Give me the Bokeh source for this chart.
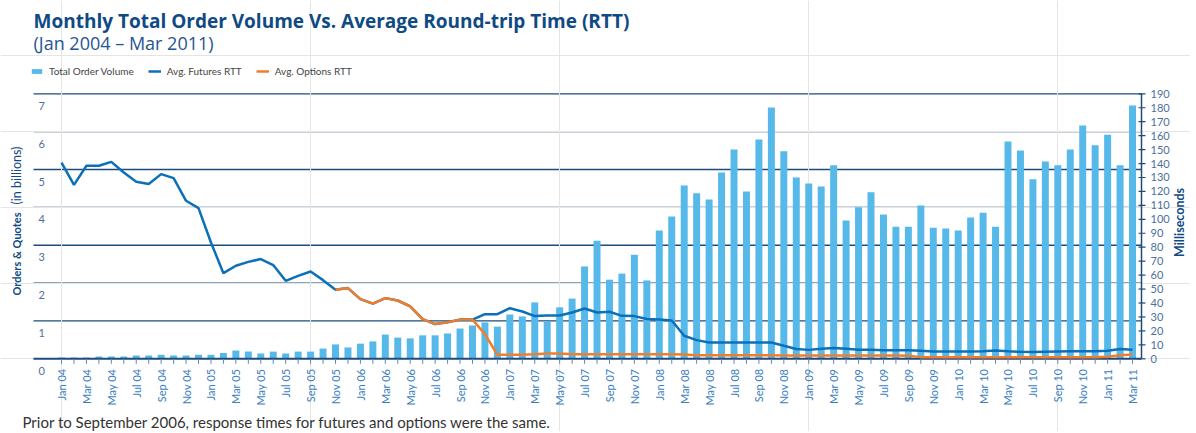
import math
from bokeh.plotting import figure
from bokeh.models import (Range1d, Label, Legend, LegendItem, ColumnDataSource)
from bokeh.core.properties import value
from bokeh.embed import file_html
from bokeh.resources import INLINE

# ---------------- data ----------------
month_names = ["Jan", "Feb", "Mar", "Apr", "May", "Jun",
               "Jul", "Aug", "Sep", "Oct", "Nov", "Dec"]
years = ["04", "05", "06", "07", "08", "09", "10", "11"]
months = [f"{m} {y}" for y in years for m in month_names][:87]   # Jan 04 .. Mar 11

# Total order volume (billions)
volume = [
    0.035, 0.035, 0.035, 0.06, 0.06, 0.06, 0.09, 0.09, 0.11, 0.09, 0.09, 0.11,   # 2004
    0.11, 0.15, 0.22, 0.19, 0.14, 0.19, 0.14, 0.19, 0.19, 0.27, 0.38, 0.30,      # 2005
    0.40, 0.46, 0.64, 0.56, 0.54, 0.62, 0.62, 0.67, 0.80, 0.88, 0.96, 0.85,      # 2006
    1.17, 1.12, 1.49, 0.99, 1.36, 1.59, 2.44, 3.12, 2.09, 2.25, 2.75, 2.07,      # 2007
    3.39, 3.76, 4.58, 4.37, 4.21, 4.92, 5.53, 4.42, 5.79, 6.64, 5.48, 4.79,      # 2008
    4.63, 4.55, 5.11, 3.65, 4.00, 4.40, 3.81, 3.49, 3.49, 4.05, 3.46, 3.44,      # 2009
    3.39, 3.73, 3.86, 3.49, 5.74, 5.50, 4.74, 5.21, 5.11, 5.53, 6.16, 5.64,      # 2010
    5.92, 5.11, 6.69,                                                             # 2011
]

# Avg. futures RTT (ms)
futures_rtt = [
    140.7, 124.7, 138.4, 138.4, 141.2, 133.6, 127.0, 125.4, 132.4, 129.5, 113.3, 108.0,
    83.4, 61.4, 66.7, 69.5, 71.5, 67.2, 55.9, 59.5, 62.6, 56.4, 49.5, 50.7,
    42.8, 39.6, 43.5, 41.8, 37.5, 28.4, 24.9, 26.2, 28.1, 28.1, 32.0, 32.0,
    36.3, 33.9, 30.6, 31.0, 31.0, 33.2, 36.1, 33.2, 33.7, 30.8, 30.6, 28.5,
    28.1, 27.5, 16.5, 13.4, 11.7, 11.7, 11.7, 11.7, 11.7, 11.7, 9.3, 7.0,
    6.4, 7.2, 7.7, 7.2, 6.5, 6.5, 6.2, 6.2, 6.2, 5.7, 5.2, 5.2,
    5.2, 5.2, 5.4, 5.9, 5.4, 5.0, 4.8, 5.0, 5.2, 5.4, 5.4, 5.4,
    5.7, 7.0, 6.5,
]

# Avg. options RTT (ms), reported from Nov 05
options_start = "Nov 05"
options_rtt = [
    49.5, 50.7,
    42.8, 39.6, 43.5, 41.8, 37.5, 28.4, 24.9, 26.2, 28.1, 28.1, 17.7, 2.9,
    2.9, 2.9, 3.3, 3.8, 3.8, 3.3, 3.3, 3.3, 3.3, 3.3, 3.3, 3.3,
    3.3, 3.3, 3.0, 2.6, 2.6, 2.6, 2.6, 2.6, 2.6, 2.6, 2.4, 2.4,
    2.4, 2.4, 2.4, 2.4, 2.4, 2.4, 2.4, 2.4, 2.2, 1.2, 1.2, 1.2,
    1.2, 1.2, 1.2, 1.2, 1.2, 1.2, 1.2, 1.2, 1.2, 1.2, 1.2, 1.2,
    1.4, 2.6, 3.1,
]

left_ticks = [0, 1, 2, 3, 4, 5, 6, 7]          # billions
right_ticks = list(range(0, 200, 10))          # milliseconds
LEFT_MAX, RIGHT_MAX = 7, 190

# ---------------- layout (canvas pixels) ----------------
W, H = 1190, 431
PL, PR, PT, PB = 33, 1141, 93.3, 358.3        # plot area inside the canvas
X0, X1 = -2.25, 86.72                         # month-index span of plot area
XS = (PR - PL) / (X1 - X0)                    # px per month
YS = (PB - PT) / LEFT_MAX                     # px per billion
MS = RIGHT_MAX / LEFT_MAX                     # ms per billion

NAVY = "#1d4b7c"
TITLE_BLUE = "#0f4a84"
TICK_BLUE = "#4d6f9c"
XLAB_BLUE = "#3a80c2"
BAR = "#56b9e9"
FUT = "#0b70b8"
OPT = "#f07d2c"
FONT = "Lato"
TFONT = "Open Sans"

idx = list(range(len(months)))
opt_i0 = months.index(options_start)
opt_x = idx[opt_i0:opt_i0 + len(options_rtt)]

src = ColumnDataSource(dict(x=idx, vol=volume, fut=futures_rtt, month=months))
opt_src = ColumnDataSource(dict(x=opt_x, opt=options_rtt))

y_start = -(H - PB) / YS
y_end = LEFT_MAX + PT / YS
p = figure(width=W, height=H, tools="",
           x_range=Range1d(X0 - PL / XS, X1 + (W - PR) / XS),
           y_range=Range1d(y_start, y_end),
           output_backend="svg", toolbar_location=None,
           x_axis_location=None, y_axis_location=None,
           min_border=0, min_border_left=0, min_border_right=0,
           min_border_top=0, min_border_bottom=0)
p.extra_y_ranges = {"ms": Range1d(y_start * MS, y_end * MS)}
p.outline_line_color = None
p.background_fill_color = "white"
p.border_fill_color = "white"

# horizontal gridlines (left scale)
gl = left_ticks[1:]
p.segment(x0=[X0] * len(gl), x1=[X1] * len(gl), y0=gl, y1=gl,
          line_color=NAVY, line_width=1.3, level="underlay")

# bars
bars = p.vbar(x="x", top="vol", width=0.56, source=src, fill_color=BAR,
              line_color=None)

# x axis: baseline, monthly ticks, labels every other month
p.segment(x0=[X0], x1=[X1], y0=[0], y1=[0], line_color=NAVY, line_width=2)
p.segment(x0=idx, x1=idx, y0=[0] * len(idx), y1=[-5 / YS] * len(idx),
          line_color="#6585ad", line_width=1)
xlab = [months[i] if i % 2 == 0 else "" for i in idx]
p.text(x=idx, y=[0] * len(idx), text=xlab, angle=math.pi / 2,
       text_align="right", text_baseline="middle", y_offset=10,
       text_font=value(FONT), text_font_size="11px", text_color=XLAB_BLUE)

# left tick labels (just below each gridline, inside the plot)
p.text(x=[X0] * len(left_ticks), y=left_ticks, text=[str(v) for v in left_ticks],
       x_offset=5, y_offset=12, text_align="left", text_baseline="middle",
       text_font=value(FONT), text_font_size="11px", text_color=TICK_BLUE)

# right axis (ms)
p.segment(x0=[X1], x1=[X1], y0=[0], y1=[RIGHT_MAX], y_range_name="ms",
          line_color=NAVY, line_width=1.5)
p.segment(x0=[X1 - 3 / XS] * len(right_ticks), x1=[X1 + 4 / XS] * len(right_ticks),
          y0=right_ticks, y1=right_ticks, y_range_name="ms",
          line_color=NAVY, line_width=1.2)
p.text(x=[X1] * len(right_ticks), y=right_ticks, text=[str(v) for v in right_ticks],
       y_range_name="ms", x_offset=9, text_align="left", text_baseline="middle",
       text_font=value(FONT), text_font_size="11px", text_color=TICK_BLUE)

# RTT lines
fut_line = p.line(x="x", y="fut", source=src, y_range_name="ms",
                  line_color=FUT, line_width=2.5)
opt_line = p.line(x="x", y="opt", source=opt_src, y_range_name="ms",
                  line_color=OPT, line_width=2.5)

# legend (screen units from canvas bottom-left)
legend = Legend(items=[LegendItem(label="Total Order Volume", renderers=[bars]),
                       LegendItem(label="Avg. Futures RTT", renderers=[fut_line]),
                       LegendItem(label="Avg. Options RTT", renderers=[opt_line])],
                orientation="horizontal", location=(30, H - 77), padding=0, margin=0,
                spacing=14, label_standoff=6, glyph_width=13, glyph_height=6,
                label_height=12, border_line_color=None, background_fill_alpha=0,
                label_text_font=FONT, label_text_font_size="10px",
                label_text_color="#444444")
p.add_layout(legend)

def lab(x, y, text, font=FONT, **kw):
    """Label positioned in canvas pixels (x from left, y from top)."""
    p.add_layout(Label(x=x, y=H - y, x_units="screen", y_units="screen",
                       text=text, text_font=font, **kw))

# titles
lab(33, 20, "Monthly Total Order Volume Vs. Average Round-trip Time (RTT)", font=TFONT,
    text_font_style="bold", text_font_size="19px", text_color=TITLE_BLUE,
    text_baseline="middle")
lab(33, 42, "(Jan 2004 \u2013 Mar 2011)", font=TFONT, text_font_size="18px",
    text_color="#1f5592", text_baseline="middle")

# left axis title (bold + regular, rotated)
lab(16, 295, "Orders & Quotes", angle=90, angle_units="deg", text_align="left",
    text_baseline="middle", text_font_style="bold", text_font_size="11px",
    text_color=TITLE_BLUE)
lab(16, 204, "(in billions)", angle=90, angle_units="deg", text_align="left",
    text_baseline="middle", text_font_size="12.5px", text_color=TITLE_BLUE)

# right axis title
lab(1179, 222, "Milliseconds", angle=90, angle_units="deg", text_align="center",
    text_baseline="middle", text_font_style="bold", text_font_size="12.5px",
    text_color=TITLE_BLUE)

# footnote
lab(22, 421, "Prior to September 2006, response times for futures and options were the same.",
    text_font_size="15px", text_color="#333333", text_baseline="middle")

open("out.html", "w").write(file_html(p, INLINE))
